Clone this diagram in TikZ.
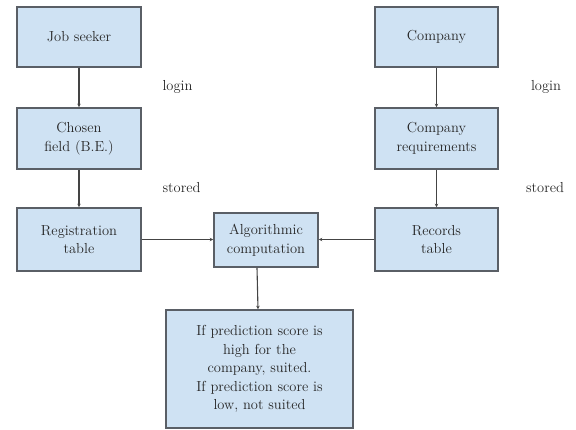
\documentclass[tikz,border=0pt]{standalone}
\usetikzlibrary{arrows.meta,calc}
\definecolor{boxfill}{HTML}{CFE2F3}
\definecolor{boxline}{HTML}{5A5F66}
\definecolor{linkline}{HTML}{444444}
\definecolor{inktext}{HTML}{262626}
\tikzset{
  x=1pt, y=1pt,
  every node/.style={font=\fontsize{14.5}{18.5}\selectfont, text=inktext},
  flowbox/.style={draw=boxline, line width=1.6pt, fill=boxfill, align=center,
    inner sep=0pt, minimum width=#1},
  flowbox/.default=124pt,
  link/.style={draw=linkline, line width=1.1pt, -{Stealth[length=3.5pt,width=3.5pt]}},
  tag/.style={inner sep=0pt}
}
\begin{document}
\begin{tikzpicture}
\useasboundingbox (0,0) rectangle (576,430);
% applicant side
\node[flowbox, minimum height=60pt] (seeker) at (79,393) {Job seeker};
\node[flowbox, minimum height=61pt] (field) at (79,291.5) {Chosen\\field (B.E.)};
\node[flowbox, minimum height=63pt] (reg) at (79,190.5) {Registration\\table};
% company side
\node[flowbox=123pt, minimum height=60pt] (company) at (436.5,393) {Company};
\node[flowbox=123pt, minimum height=61pt] (req) at (436.5,291.5) {Company\\requirements};
\node[flowbox=123pt, minimum height=63pt] (records) at (436.5,190.5) {Records\\table};
% matching and outcome
\node[flowbox=104pt, minimum height=54pt] (algo) at (266,190) {Algorithmic\\computation};
\node[flowbox=187pt, minimum height=118pt] (result) at (259.5,61)
  {If prediction score is\\high for the\\company, suited.\\If prediction score is\\low, not suited};
% step labels
\node[tag] (login1) at (177.5,343) {login};
\node[tag] (stored1) at (181.5,242) {stored};
\node[tag] (login2) at (546,343) {login};
\node[tag] (stored2) at (545,242) {stored};
% connectors
\draw[link] (seeker) -- (field);
\draw[link] (field) -- (reg);
\draw[link] (company) -- (req);
\draw[link] (req) -- (records);
\draw[link] (reg.east) -- (algo.west |- reg.east);
\draw[link] (records.west) -- (algo.east |- records.west);
\draw[link] ($(algo.south)+(-9,0)$) -- ($(result.north)+(-1.5,0)$);
\end{tikzpicture}
\end{document}
